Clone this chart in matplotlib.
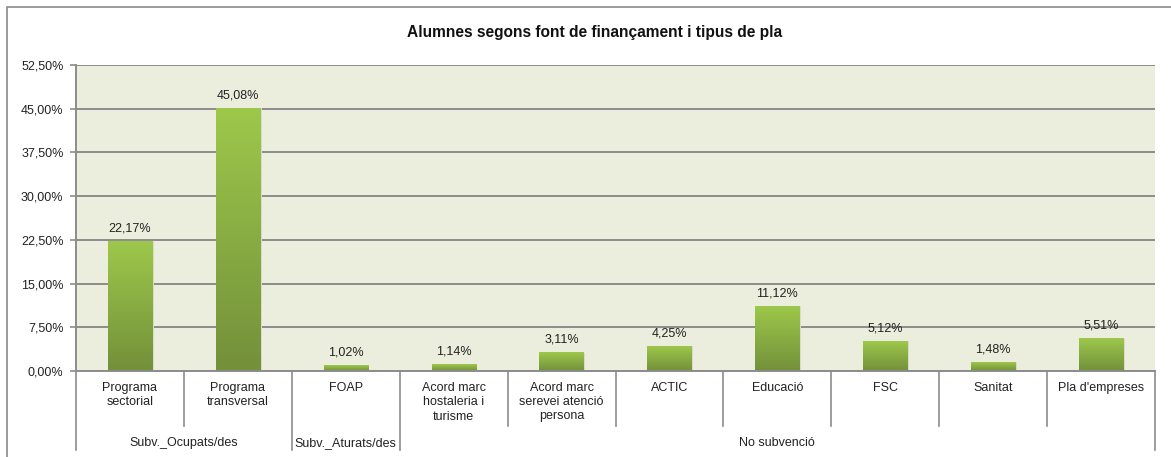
import numpy as np
import matplotlib.pyplot as plt
from matplotlib.colors import LinearSegmentedColormap
from matplotlib.patches import Rectangle
import matplotlib.transforms as mtrans

plt.rcParams['font.family'] = ['Liberation Sans', 'DejaVu Sans']

# --- Data ---
categories = ["Programa\nsectorial", "Programa\ntransversal", "FOAP",
              "Acord marc\nhostaleria i\nturisme", "Acord marc\nserevei atenció\npersona",
              "ACTIC", "Educació", "FSC", "Sanitat", "Pla d'empreses"]
values = [22.17, 45.08, 1.02, 1.14, 3.11, 4.25, 11.12, 5.12, 1.48, 5.51]
groups = ["Subv._Ocupats/des", "Subv._Aturats/des", "No subvenció"]
group_sizes = [2, 1, 7]
yticks = [0, 7.5, 15, 22.5, 30, 37.5, 45, 52.5]

W, H = 1171, 457
fig = plt.figure(figsize=(W / 100, H / 100), dpi=100)

# outer chart frame (cut off on right/bottom as in the source)
fig.patches.append(Rectangle((7 / W, -0.1), 1.2, 1 - 7 / H + 0.1,
                             transform=fig.transFigure, fill=False,
                             edgecolor="#8a8a8a", lw=1.2))

# plot area in pixels: x 76..1155, y 65..371
x0, x1, ytop, ybot = 76, 1155, 65, 371
ax = fig.add_axes([x0 / W, 1 - ybot / H, (x1 - x0) / W, (ybot - ytop) / H])
ax.set_facecolor("#ebeedd")
ph = ybot - ytop

fig.text(595 / W, 1 - 33 / H, "Alumnes segons font de finançament i tipus de pla",
         ha="center", va="center", fontsize=11.2, fontweight="bold", color="#111111")

# gridlines
for t in yticks:
    ax.axhline(t, color="#8c8c8c", lw=1.4, zorder=1)

# gradient bars
cmap = LinearSegmentedColormap.from_list("g", ["#73903a", "#9dc84b"])
grad = np.linspace(0, 1, 256).reshape(-1, 1)
bw = 0.41
for i, v in enumerate(values):
    cx = i + 0.5
    # soft shadow
    ax.add_patch(Rectangle((cx - bw / 2 + 0.015, 0), bw, v, color="#d8dbcb",
                           zorder=2, lw=0))
    ax.imshow(grad, extent=(cx - bw / 2, cx + bw / 2, 0, v), origin="lower",
              cmap=cmap, aspect="auto", zorder=3)
    ax.text(cx, v + 1.2, f"{v:.2f}%".replace(".", ","), ha="center", va="bottom",
            fontsize=9, color="#222222")

ax.set_xlim(0, 10)
ax.set_ylim(0, 52.5)
ax.set_yticks(yticks)
ax.set_yticklabels([f"{t:.2f}%".replace(".", ",") for t in yticks], fontsize=9,
                   color="#222222")
ax.tick_params(axis="y", length=4, color="#8c8c8c", width=1.2, pad=5)
ax.set_xticks([])
for s in ["top", "right", "bottom"]:
    ax.spines[s].set_visible(False)
ax.spines["left"].set_color("#8c8c8c")
ax.spines["left"].set_linewidth(1.4)

# category axis (two levels)
tr = mtrans.blended_transform_factory(ax.transData, ax.transAxes)
ax.plot([0, 10], [0, 0], transform=tr, color="#8c8c8c", lw=1.4, clip_on=False, zorder=5)
bounds = np.cumsum([0] + group_sizes)
for k in range(11):
    yend = -79 / ph if k in bounds else -55 / ph
    ax.plot([k, k], [0, yend], transform=tr, color="#8c8c8c", lw=1.2, clip_on=False)

for i, lab in enumerate(categories):
    ax.text(i + 0.5, -11 / ph, lab, transform=tr, ha="center", va="top",
            fontsize=9, color="#222222", linespacing=1.25)

for g, lab in enumerate(groups):
    cx = (bounds[g] + bounds[g + 1]) / 2
    ax.text(cx, -72 / ph, lab, transform=tr, ha="center", va="center",
            fontsize=9, color="#222222")

fig.savefig("out.png", dpi=100)
